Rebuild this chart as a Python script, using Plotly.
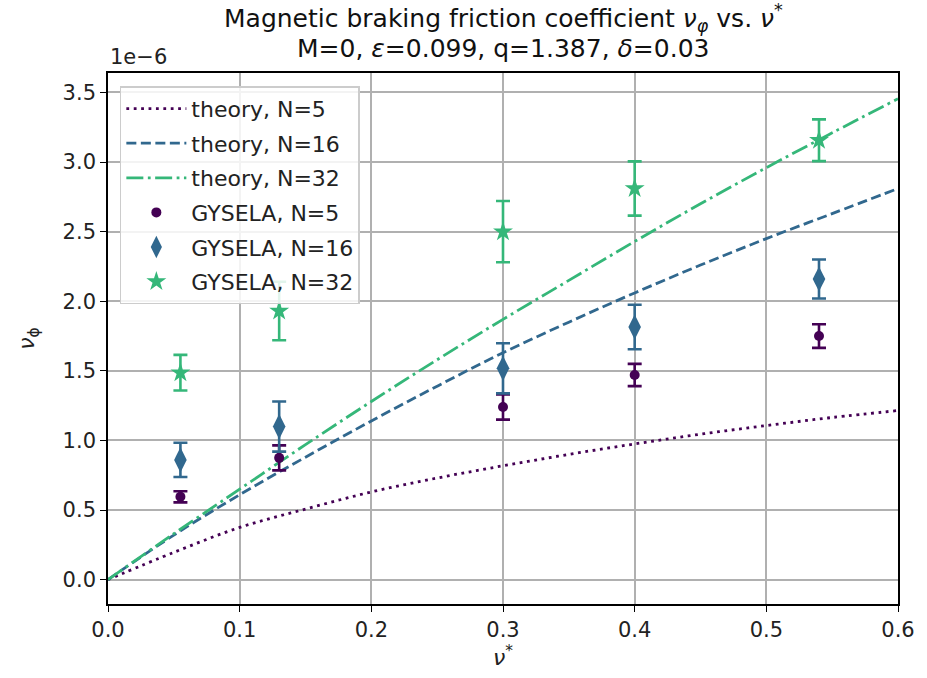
import plotly.graph_objects as go

# values in units of 1e-6
x_theory = [0.0, 0.05, 0.1, 0.15, 0.2, 0.25, 0.3, 0.35, 0.4, 0.45, 0.5, 0.55, 0.6]
theory_N5 = [0.0, 0.196, 0.375, 0.507, 0.63, 0.73, 0.818, 0.90, 0.975, 1.045, 1.107, 1.165, 1.215]
theory_N16 = [0.0, 0.32, 0.61, 0.88, 1.14, 1.39, 1.63, 1.85, 2.06, 2.26, 2.45, 2.63, 2.81]
theory_N32 = [0.0, 0.33, 0.65, 0.97, 1.28, 1.58, 1.87, 2.15, 2.43, 2.70, 2.96, 3.21, 3.455]

x_gys = [0.055, 0.13, 0.3, 0.4, 0.54]
gys_N5 = [0.595, 0.875, 1.24, 1.47, 1.75]
err_N5 = [0.04, 0.09, 0.09, 0.08, 0.085]
gys_N16 = [0.86, 1.10, 1.518, 1.815, 2.16]
err_N16 = [0.123, 0.18, 0.18, 0.16, 0.14]
gys_N32 = [1.487, 1.93, 2.50, 2.81, 3.157]
err_N32 = [0.128, 0.21, 0.22, 0.195, 0.15]

title_line1 = "Magnetic braking friction coefficient <i>ν<sub>φ</sub></i> vs. <i>ν</i><sup>*</sup>"
title_line2 = "M=0, <i>ε</i>=0.099, q=1.387, <i>δ</i>=0.03"

c5, c16, c32 = "#440154", "#31688e", "#35b779"
FONT = "DejaVu Sans"
LW = 2.8

fig = go.Figure()
fig.add_trace(go.Scatter(x=x_theory, y=theory_N5, mode="lines", name="theory, N=5", legendgroup="a",
                         line=dict(color=c5, width=LW, dash="2.8px,4.6px", shape="spline")))
fig.add_trace(go.Scatter(x=x_theory, y=theory_N16, mode="lines", name="theory, N=16", legendgroup="b",
                         line=dict(color=c16, width=LW, dash="10px,4.5px", shape="spline")))
fig.add_trace(go.Scatter(x=x_theory, y=theory_N32, mode="lines", name="theory, N=32", legendgroup="c",
                         line=dict(color=c32, width=LW, dash="17px,4.5px,2.8px,4.5px", shape="spline")))
fig.add_trace(go.Scatter(x=x_gys, y=gys_N5, mode="markers", name="GYSELA, N=5", legendgroup="d",
                         marker=dict(color=c5, size=10, symbol="circle"),
                         error_y=dict(type="data", array=err_N5, color=c5, thickness=2.6, width=7)))
fig.add_trace(go.Scatter(x=x_gys, y=gys_N16, mode="markers", name="GYSELA, N=16", legendgroup="e",
                         marker=dict(color=c16, size=18, symbol="diamond-tall"),
                         error_y=dict(type="data", array=err_N16, color=c16, thickness=2.6, width=7)))
fig.add_trace(go.Scatter(x=x_gys, y=gys_N32, mode="markers", name="GYSELA, N=32", legendgroup="f",
                         marker=dict(color=c32, size=15, symbol="star"),
                         error_y=dict(type="data", array=err_N32, color=c32, thickness=2.6, width=7)))

axis_common = dict(showline=True, linecolor="black", linewidth=1.6, mirror=True,
                   ticks="outside", ticklen=6, tickwidth=1.4, tickcolor="black",
                   showgrid=True, gridcolor="#b0b0b0", gridwidth=1.6, zeroline=False,
                   tickfont=dict(family=FONT, size=21, color="#222"))

fig.update_xaxes(range=[0, 0.6], tickvals=[0, 0.1, 0.2, 0.3, 0.4, 0.5, 0.6], tickformat=".1f",
                 title=dict(text="<i>ν</i><sup>*</sup>", font=dict(family=FONT, size=22, color="#222"), standoff=8),
                 **axis_common)
fig.update_yaxes(range=[-0.175, 3.64], tickvals=[0, 0.5, 1.0, 1.5, 2.0, 2.5, 3.0, 3.5], tickformat=".1f",
                 title=dict(text="<i>ν</i><sub>ϕ</sub>", font=dict(family=FONT, size=22, color="#222"), standoff=22),
                 **axis_common)

fig.update_layout(
    width=927, height=678,
    margin=dict(l=108, r=21, t=73, b=74),
    paper_bgcolor="white", plot_bgcolor="white",
    legend=dict(x=0.015, y=0.975, xanchor="left", yanchor="top",
                bgcolor="rgba(255,255,255,0.85)", bordercolor="#cccccc", borderwidth=1.5,
                font=dict(family=FONT, size=22, color="#222"), tracegroupgap=3, itemwidth=60),
    showlegend=True,
)
fig.add_annotation(text=title_line1, x=0.5, xref="paper", xanchor="center", y=1, yref="paper",
                   yanchor="middle", yshift=55, showarrow=False,
                   font=dict(family=FONT, size=25, color="#111"))
fig.add_annotation(text=title_line2, x=0.5, xref="paper", xanchor="center", y=1, yref="paper",
                   yanchor="middle", yshift=25, showarrow=False,
                   font=dict(family=FONT, size=25, color="#111"))
fig.add_annotation(text="1e−6", x=0, xref="paper", xanchor="left", y=1.0, yref="paper", yanchor="bottom",
                   yshift=2, showarrow=False, font=dict(family=FONT, size=21, color="#222"))

fig.write_html("out.html")
